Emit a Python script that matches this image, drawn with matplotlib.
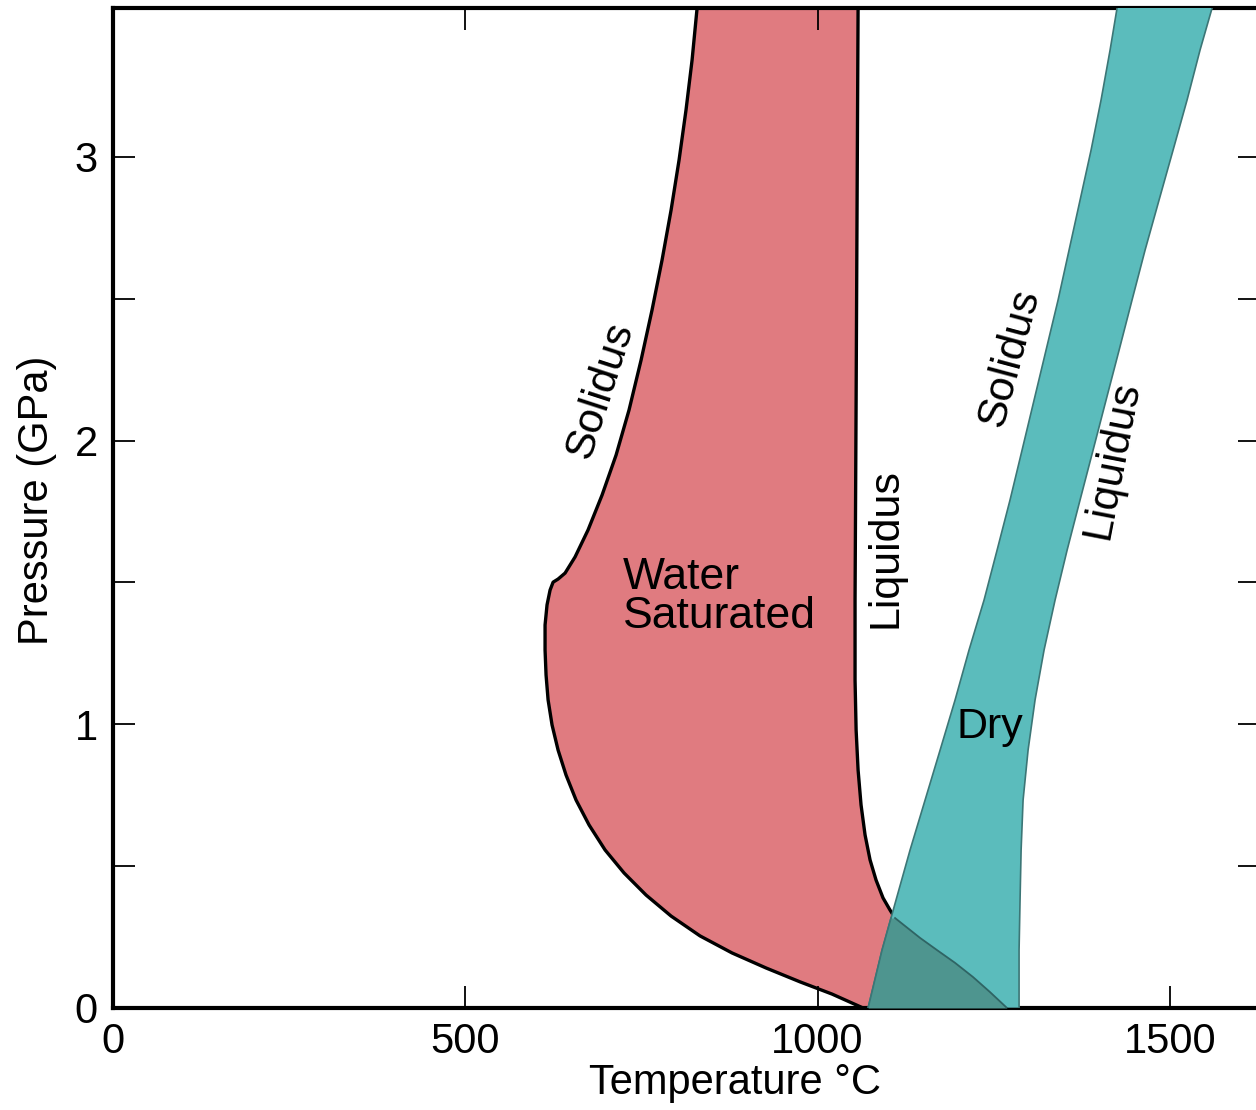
import numpy as np
import matplotlib
matplotlib.use("Agg")
import matplotlib.pyplot as plt

plt.rcParams["font.family"] = ["Liberation Sans", "DejaVu Sans"]

# Curves: temperature (C) vs pressure (GPa), bottom to top
wet_sol_T = [1064.6, 1020.6, 975.2, 926.9, 878.6, 833.2, 792.1, 756.6, 725.3,
             698.4, 675.7, 657.2, 643.0, 631.7, 623.1, 617.5, 614.6, 613.2,
             613.2, 616.0, 620.3, 624.6, 631.7, 641.6, 655.8, 674.2, 694.1,
             714.0, 732.4, 749.5, 765.1, 779.3, 792.1, 803.4, 813.3, 821.9,
             829.0, 831.0]
wet_sol_P = [0.0, 0.049, 0.092, 0.141, 0.194, 0.254, 0.324, 0.398, 0.476,
             0.557, 0.645, 0.733, 0.821, 0.909, 0.998, 1.086, 1.174, 1.262,
             1.350, 1.421, 1.473, 1.501, 1.512, 1.533, 1.590, 1.685, 1.808,
             1.949, 2.108, 2.284, 2.461, 2.637, 2.813, 2.989, 3.166, 3.342,
             3.525, 3.65]

wet_liq_T = [1268.9, 1244.8, 1220.7, 1195.2, 1169.6, 1145.5, 1124.2, 1110.0,
             1102.9, 1092.9, 1083.0, 1074.5, 1067.4, 1061.7, 1057.5, 1054.7,
             1053.2, 1053.2, 1054.7, 1056.1, 1057.5, 1058.0]
wet_liq_P = [0.0, 0.056, 0.109, 0.159, 0.204, 0.247, 0.289, 0.317, 0.345,
             0.388, 0.451, 0.522, 0.610, 0.716, 0.839, 0.980, 1.156, 1.438,
             2.143, 2.848, 3.525, 3.65]

dry_sol_T = [1071.7, 1091.5, 1111.4, 1131.3, 1152.6, 1173.9, 1195.2, 1215.0,
             1236.3, 1254.8, 1273.2, 1290.3, 1307.3, 1324.3, 1341.4, 1357.0,
             1372.6, 1388.2, 1402.4, 1415.2, 1425.1, 1434.0]
dry_sol_P = [0.0, 0.204, 0.381, 0.557, 0.733, 0.909, 1.086, 1.262, 1.438,
             1.614, 1.791, 1.967, 2.143, 2.319, 2.496, 2.672, 2.848, 3.024,
             3.201, 3.377, 3.525, 3.65]

dry_liq_T = [1286.0, 1286.0, 1287.4, 1288.9, 1291.7, 1298.8, 1308.7, 1321.5,
             1337.1, 1354.2, 1372.6, 1391.1, 1409.5, 1428.0, 1446.4, 1464.9,
             1484.7, 1504.6, 1524.5, 1542.9, 1560.0, 1578.0]
dry_liq_P = dry_sol_P

P_cross = 0.317  # wet liquidus meets dry solidus

RED = "#e07b80"
TEAL = "#5bbcbc"
OVERLAP = "#4e958f"
TEAL_EDGE = "#3c7676"

fig = plt.figure(figsize=(12.56, 11.10), dpi=100)
ax = fig.add_axes([0.0900, 0.0919, 0.9132, 0.9009])

# water saturated field
ax.fill(np.r_[wet_sol_T, wet_liq_T[::-1]], np.r_[wet_sol_P, wet_liq_P[::-1]],
        color=RED, lw=0, zorder=1)
ax.plot(wet_sol_T, wet_sol_P, color="black", lw=2.4, zorder=2)
liq_T = np.array(wet_liq_T)
liq_P = np.array(wet_liq_P)
ax.plot(liq_T[liq_P >= P_cross], liq_P[liq_P >= P_cross],
        color="black", lw=2.4, zorder=2)

# dry field
ax.fill(np.r_[dry_sol_T, dry_liq_T[::-1]], np.r_[dry_sol_P, dry_liq_P[::-1]],
        facecolor=TEAL, edgecolor=TEAL_EDGE, lw=1.2, zorder=3)

# overlap of the two fields
pp = np.linspace(0, P_cross, 60)
left = np.interp(pp, dry_sol_P, dry_sol_T)
right = np.interp(pp, wet_liq_P, wet_liq_T)
ax.fill_betweenx(pp, left, right, color=OVERLAP, lw=0, zorder=4)
ax.plot(liq_T[liq_P <= P_cross], liq_P[liq_P <= P_cross],
        color="#2f6464", lw=1.3, zorder=5)
ax.plot(left, pp, color=TEAL_EDGE, lw=1.2, zorder=5)

fs = 31
ax.text(691, 2.178, "Solidus", rotation=72, ha="center", va="center",
        fontsize=fs, zorder=6)
ax.text(724, 1.449, "Water\nSaturated", ha="left", va="center",
        fontsize=32, linespacing=0.95, zorder=6)
ax.text(1096, 1.621, "Liquidus", rotation=90, ha="center", va="center",
        fontsize=fs, zorder=6)
ax.text(1273, 2.291, "Solidus", rotation=75, ha="center", va="center",
        fontsize=fs, zorder=6)
ax.text(1418, 1.932, "Liquidus", rotation=79, ha="center", va="center",
        fontsize=fs, zorder=6)
ax.text(1245, 0.990, "Dry", ha="center", va="center", fontsize=fs, zorder=6)

ax.set_xlim(0, 1628)
ax.set_ylim(0, 3.525)
ax.set_xticks([0, 500, 1000, 1500])
ax.set_yticks([0, 0.5, 1, 1.5, 2, 2.5, 3])
ax.set_yticklabels(["0", "", "1", "", "2", "", "3"])
ax.tick_params(direction="in", length=16, width=1.3, labelsize=30,
               top=True, right=True)
ax.tick_params(axis="y", pad=11)
ax.tick_params(axis="x", pad=10)
for s in ax.spines.values():
    s.set_linewidth(3)

fig.text(37 / 1256, 1 - 500 / 1110, "Pressure (GPa)", rotation=90,
         ha="center", va="center", fontsize=30)
fig.text(735 / 1256, 1 - 1083 / 1110, "Temperature °C", ha="center",
         va="center", fontsize=30)

fig.savefig("out.png", dpi=100)
